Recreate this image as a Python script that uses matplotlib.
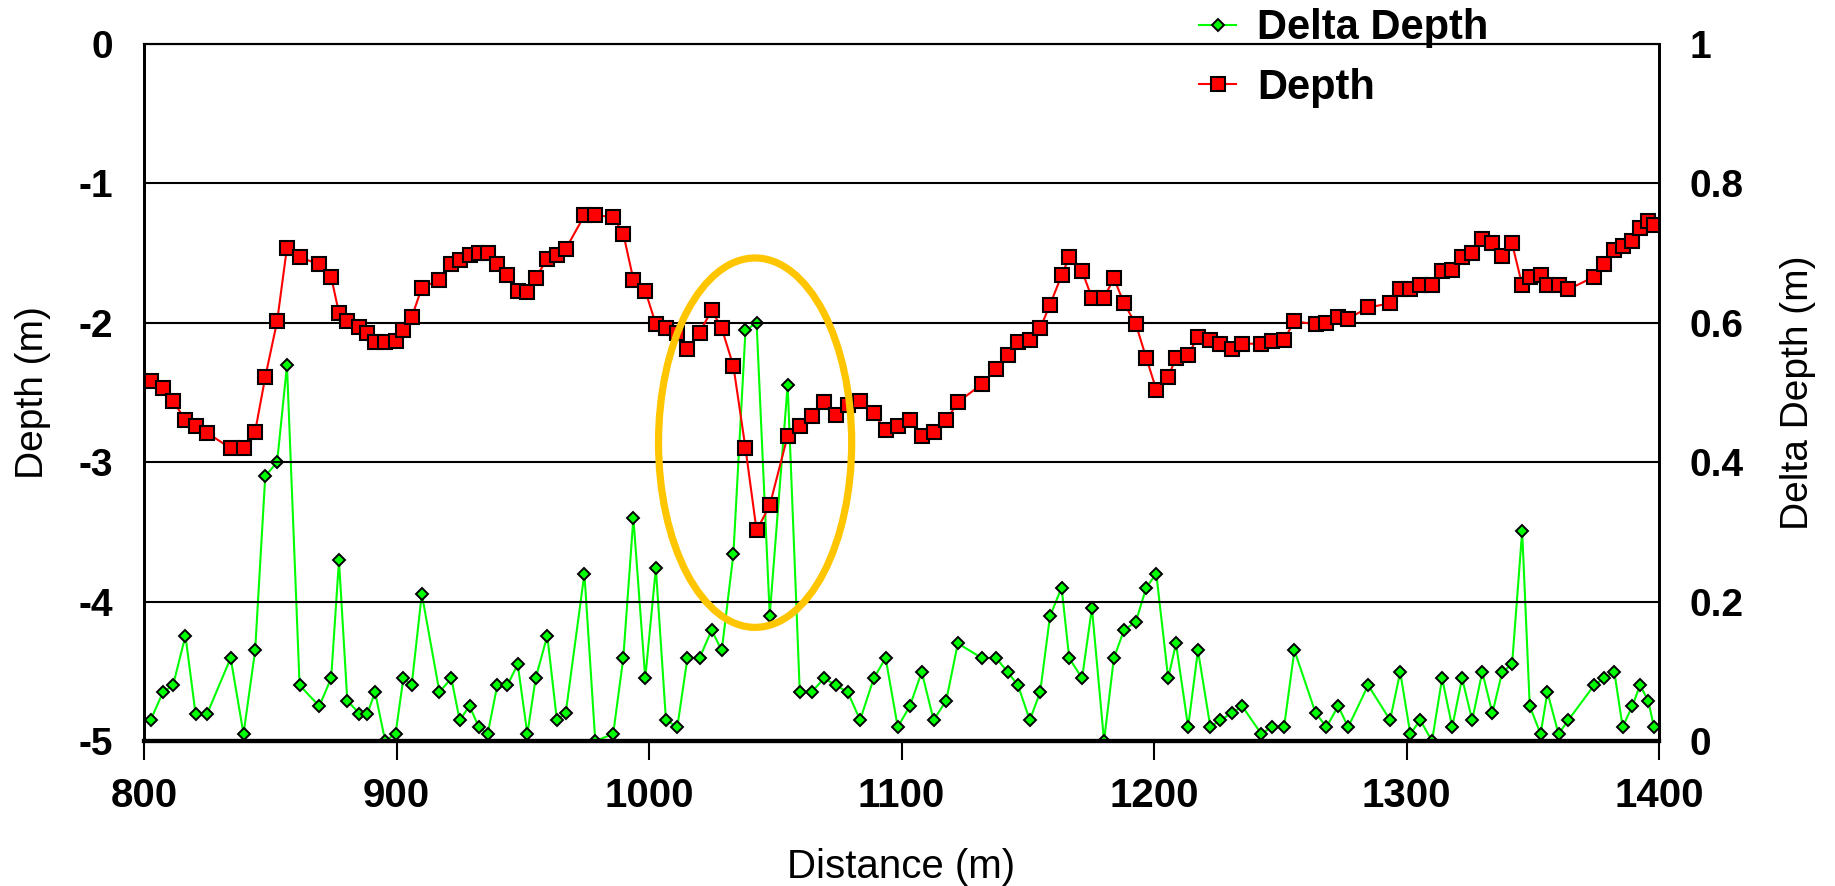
import numpy as np
import matplotlib
matplotlib.use("Agg")
import matplotlib.pyplot as plt
from matplotlib.patches import Ellipse

plt.rcParams['font.family'] = ['Liberation Sans', 'DejaVu Sans']
plt.rcParams['axes.unicode_minus'] = False

distance = [802.6, 807.5, 811.5, 816.4, 820.4, 825.0, 834.3, 839.4, 844.0, 848.0,
            852.7, 856.6, 861.6, 869.4, 874.1, 877.2, 880.5, 885.3, 888.4, 891.5,
            895.5, 899.6, 902.7, 906.0, 910.0, 917.0,
            921.7, 925.0, 928.9, 932.6, 936.1, 939.9, 943.9, 948.0, 951.8, 955.1,
            959.7, 963.5, 967.0, 974.4, 978.7, 985.8, 989.8, 993.8, 998.5, 1002.7,
            1006.7, 1011.2, 1015.2, 1020.0, 1024.8, 1028.8, 1033.4, 1038.2, 1042.6,
            1047.8, 1054.9, 1059.7, 1064.4, 1069.3, 1074.0, 1078.7, 1083.6, 1089.0,
            1093.7, 1098.5, 1103.3, 1108.0, 1112.7, 1117.7, 1122.3, 1131.8, 1137.5,
            1142.0, 1146.1, 1150.8, 1154.9, 1158.8, 1163.4, 1166.4,
            1171.5, 1175.4, 1180.2, 1184.1, 1188.1, 1192.8, 1196.9, 1200.9, 1205.6,
            1208.7, 1213.5, 1217.4, 1222.3, 1226.2, 1230.9, 1234.9, 1242.5, 1246.6,
            1251.5, 1255.6, 1264.0, 1268.3, 1272.9, 1276.9, 1284.8,
            1293.5, 1297.5, 1301.5, 1305.4, 1310.1, 1314.1, 1318.1, 1322.0, 1326.0,
            1330.0, 1334.0, 1337.9, 1341.8, 1345.8, 1348.8, 1353.1, 1355.8, 1360.2,
            1364.1, 1374.3, 1378.3, 1382.3, 1385.6, 1389.4, 1392.5, 1395.7, 1398.0]

depth = [-2.42, -2.47, -2.56, -2.70, -2.74, -2.79, -2.90, -2.90, -2.78, -2.39,
         -1.99, -1.46, -1.53, -1.58, -1.67, -1.93, -1.99, -2.03, -2.07, -2.14,
         -2.14, -2.13, -2.05, -1.96, -1.75, -1.69,
         -1.58, -1.55, -1.51, -1.50, -1.50, -1.58, -1.66, -1.77, -1.78, -1.68,
         -1.54, -1.51, -1.47, -1.23, -1.23, -1.24, -1.36, -1.69, -1.77, -2.01,
         -2.04, -2.07, -2.19, -2.07, -1.91, -2.04, -2.31, -2.90, -3.49,
         -3.31, -2.81, -2.74, -2.67, -2.57, -2.66, -2.59, -2.56, -2.65,
         -2.77, -2.74, -2.70, -2.81, -2.78, -2.70, -2.57, -2.44, -2.33,
         -2.23, -2.14, -2.12, -2.04, -1.87, -1.66, -1.53,
         -1.63, -1.82, -1.82, -1.68, -1.86, -2.01, -2.25, -2.48, -2.39,
         -2.25, -2.23, -2.10, -2.12, -2.15, -2.19, -2.15, -2.15, -2.13,
         -2.12, -1.99, -2.01, -2.00, -1.96, -1.97, -1.89,
         -1.86, -1.76, -1.76, -1.73, -1.73, -1.63, -1.62, -1.53, -1.50,
         -1.40, -1.43, -1.52, -1.43, -1.73, -1.67, -1.66, -1.73, -1.73,
         -1.76, -1.67, -1.58, -1.48, -1.45, -1.41, -1.32, -1.27, -1.30]

delta_depth = [0.030, 0.070, 0.080, 0.151, 0.039, 0.039, 0.119, 0.010, 0.130, 0.380,
               0.400, 0.539, 0.080, 0.050, 0.090, 0.259, 0.058, 0.039, 0.039, 0.070,
               0.000, 0.010, 0.090, 0.080, 0.211, 0.070,
               0.090, 0.030, 0.050, 0.020, 0.010, 0.080, 0.080, 0.110, 0.010, 0.090,
               0.151, 0.030, 0.040, 0.240, 0.000, 0.010, 0.119, 0.320, 0.090, 0.248,
               0.030, 0.020, 0.119, 0.119, 0.159, 0.130, 0.268, 0.589, 0.600,
               0.180, 0.511, 0.070, 0.070, 0.090, 0.080, 0.070, 0.030, 0.090,
               0.119, 0.020, 0.050, 0.099, 0.030, 0.058, 0.140, 0.119, 0.119,
               0.099, 0.080, 0.030, 0.070, 0.179, 0.220, 0.119,
               0.090, 0.191, 0.000, 0.119, 0.159, 0.171, 0.220, 0.240, 0.090,
               0.140, 0.020, 0.130, 0.020, 0.030, 0.040, 0.050, 0.010, 0.020,
               0.020, 0.130, 0.040, 0.020, 0.050, 0.020, 0.080,
               0.030, 0.099, 0.010, 0.030, 0.000, 0.090, 0.020, 0.090, 0.030,
               0.099, 0.040, 0.099, 0.110, 0.301, 0.050, 0.010, 0.070, 0.010,
               0.030, 0.080, 0.090, 0.099, 0.020, 0.050, 0.080, 0.058, 0.020]

x_ticks = [800, 900, 1000, 1100, 1200, 1300, 1400]
depth_ticks = [0, -1, -2, -3, -4, -5]
delta_ticks = [0, 0.2, 0.4, 0.6, 0.8, 1]

fig = plt.figure(figsize=(18.35, 8.86), dpi=100)
ax = fig.add_axes([0.0785, 0.1637, 0.8256, 0.7866])
ax2 = ax.twinx()

# depth line sits above the delta line
ax.set_zorder(ax2.get_zorder() + 1)
ax.patch.set_visible(False)

l2, = ax2.plot(distance, delta_depth, color='#00ff00', lw=1.5, marker='D', ms=5.8,
               mfc='#00ff00', mec='black', mew=1.4, label='Delta Depth')
l1, = ax.plot(distance, depth, color='red', lw=1.5, marker='s', ms=10,
              mfc='red', mec='black', mew=1.5, label='Depth')

ring = Ellipse((1042, -2.86), 76.5, 2.65, fill=False, ec='#ffc600', lw=5.2, zorder=2.5)
ax.add_patch(ring)

ax.set_xlim(800, 1400)
ax.set_ylim(-5, 0)
ax2.set_ylim(0, 1)

ax.set_xticks(x_ticks)
ax.set_yticks(depth_ticks)
ax2.set_yticks(delta_ticks)
ax2.set_yticklabels(['0', '0.2', '0.4', '0.6', '0.8', '1'])

ax.yaxis.grid(True, color='black', lw=1.5)
ax.set_axisbelow(True)

ax.tick_params(axis='x', direction='out', length=14, width=1.5, pad=12, labelsize=29)
ax.tick_params(axis='y', length=0, pad=22, labelsize=28)
ax2.tick_params(axis='y', length=0, pad=22, labelsize=28)
for lab in ax.get_xticklabels() + ax.get_yticklabels() + ax2.get_yticklabels():
    lab.set_fontweight('bold')

for a in (ax, ax2):
    for s in a.spines.values():
        s.set_linewidth(2)
    a.spines['bottom'].set_linewidth(3)
    a.spines['top'].set_linewidth(1.5)

ax.set_xlabel('Distance (m)', fontsize=29, labelpad=24)
ax.set_ylabel('Depth (m)', fontsize=28, labelpad=20)
ax2.set_ylabel('Delta Depth (m)', fontsize=28, labelpad=26)

fig.legend(handles=[l2, l1], loc='upper left', bbox_to_anchor=(0.642, 1.014),
           frameon=False, prop={'weight': 'bold', 'size': 30}, borderpad=0,
           handlelength=0.9, handletextpad=0.5, labelspacing=0.47)

fig.savefig('out.png', dpi=100)
